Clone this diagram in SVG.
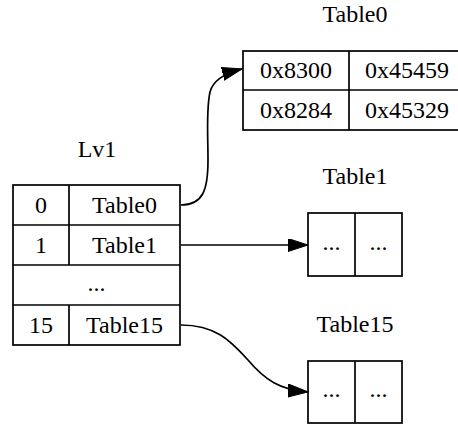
<svg xmlns="http://www.w3.org/2000/svg" width="458" height="428" viewBox="0 0 458 428">
  <style>
    .cell { fill: #ffffff; stroke: #000000; stroke-width: 1.7; }
    .sep { stroke: #000000; stroke-width: 1.7; }
    .txt { font-family: "Liberation Serif", "Times New Roman", serif; font-size: 24px; fill: #000000; text-anchor: middle; }
    .edge { fill: none; stroke: #000000; stroke-width: 1.7; marker-end: url(#arrow); }
  </style>
  <defs>
    <marker id="arrow" markerUnits="userSpaceOnUse" markerWidth="22" markerHeight="15" refX="20" refY="6.5" orient="auto">
      <path d="M0,0 L20,6.5 L0,13 Z" fill="#000000" stroke="#000000" stroke-width="1"/>
    </marker>
  </defs>
  <rect width="458" height="428" fill="#ffffff"/>

  <!-- level-1 directory -->
  <g id="lv1">
    <text class="txt" x="97" y="157">Lv1</text>
    <rect class="cell" x="13" y="185" width="167" height="160"/>
    <line class="sep" x1="13" y1="225" x2="180" y2="225"/>
    <line class="sep" x1="13" y1="265" x2="180" y2="265"/>
    <line class="sep" x1="13" y1="305" x2="180" y2="305"/>
    <line class="sep" x1="69" y1="185" x2="69" y2="265"/>
    <line class="sep" x1="69" y1="305" x2="69" y2="345"/>
    <text class="txt" x="41" y="213">0</text>
    <text class="txt" x="124.5" y="213">Table0</text>
    <text class="txt" x="41" y="253">1</text>
    <text class="txt" x="124.5" y="253">Table1</text>
    <text class="txt" x="96.5" y="291">...</text>
    <text class="txt" x="41" y="333">15</text>
    <text class="txt" x="124.5" y="333">Table15</text>
  </g>

  <!-- Table0 -->
  <g id="table0">
    <text class="txt" x="355" y="22">Table0</text>
    <rect class="cell" x="243" y="51" width="222" height="79"/>
    <line class="sep" x1="243" y1="90" x2="465" y2="90"/>
    <line class="sep" x1="349" y1="51" x2="349" y2="130"/>
    <text class="txt" x="296" y="78">0x8300</text>
    <text class="txt" x="407" y="78">0x45459</text>
    <text class="txt" x="296" y="118">0x8284</text>
    <text class="txt" x="407" y="118">0x45329</text>
  </g>

  <!-- Table1 -->
  <g id="table1">
    <text class="txt" x="355" y="184">Table1</text>
    <rect class="cell" x="308" y="213" width="94" height="63"/>
    <line class="sep" x1="355" y1="213" x2="355" y2="276"/>
    <text class="txt" x="331.5" y="250">...</text>
    <text class="txt" x="378.5" y="250">...</text>
  </g>

  <!-- Table15 -->
  <g id="table15">
    <text class="txt" x="355" y="332">Table15</text>
    <rect class="cell" x="308" y="361" width="94" height="62"/>
    <line class="sep" x1="355" y1="361" x2="355" y2="423"/>
    <text class="txt" x="331.5" y="397">...</text>
    <text class="txt" x="378.5" y="397">...</text>
  </g>

  <!-- pointers from directory entries to tables -->
  <g id="edges">
    <path class="edge" d="M181,205 C203,205 208,190 208,160 C208,135 206,110 210,92 C213,80 226,73 242,69"/>
    <path class="edge" d="M181,245 L308,245"/>
    <path class="edge" d="M181,325 C215,325 230,340 248,360 C265,380 280,390 308,392"/>
  </g>
</svg>
